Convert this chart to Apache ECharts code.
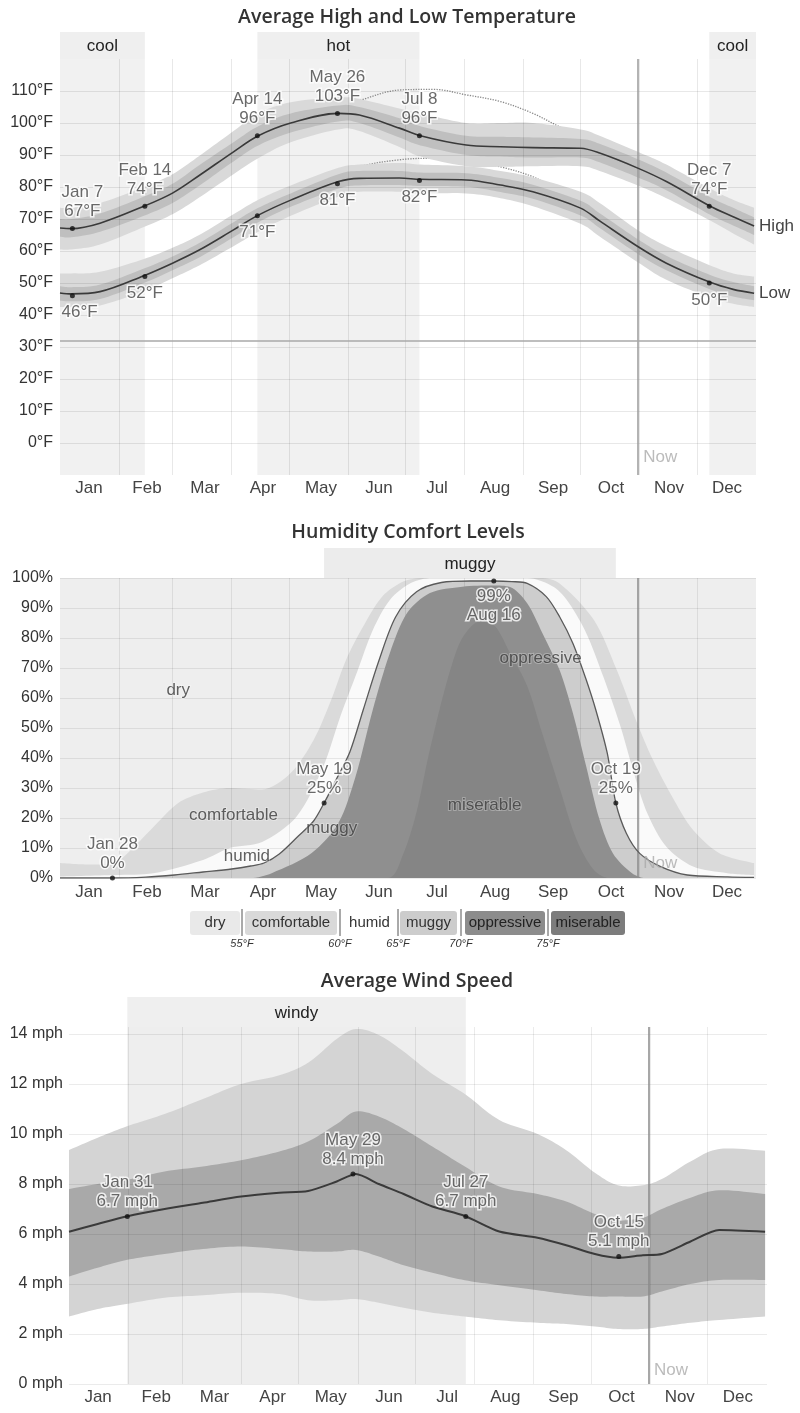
<!DOCTYPE html>
<html><head><meta charset="utf-8">
<script src="https://cdn.jsdelivr.net/npm/echarts@6/dist/echarts.min.js"></script>
<style>html,body{margin:0;padding:0;background:#fff}#c{width:800px;height:1413px}</style>
</head><body><div id="c"></div>
<script>
// ---------------- shared ----------------
const months = ['Jan','Feb','Mar','Apr','May','Jun','Jul','Aug','Sep','Oct','Nov','Dec'];
const monthStartDays = [31,59,90,120,151,181,212,243,273,304,334];
const nowDay = 303;

// ---------------- temperature ----------------
const tempYTicks = [0,10,20,30,40,50,60,70,80,90,100,110];
const freezingF = 32;
const tempBandNames = ['cool','hot','cool'];
const tempBandStart = [0, 103.5, 340.5];
const tempBandEnd = [44.5, 188.5, 365];
const tempDays = [0, 6, 21, 44, 59, 73, 91, 104, 121, 146, 157, 178, 189, 213, 231, 248, 273, 283, 303, 318, 341, 353, 364];
const tempHigh = [67.2, 67, 68.7, 74, 78.1, 83.6, 91, 96, 100, 103, 102.5, 98.4, 96, 93.1, 92.6, 92.3, 92.1, 90.6, 85.9, 81.7, 74, 70.7, 67.8];
const tempLow = [46.9, 46.6, 47.3, 52.3, 56.2, 60.3, 66.6, 71.2, 75.9, 81.7, 82.7, 82.8, 82.4, 82.2, 80.6, 78.5, 73.4, 69.4, 61.4, 56.2, 50.2, 48, 46.8];
const highP90 = [73.5, 73.5, 75, 80, 84, 89.7, 97.5, 103, 106.5, 108, 107.5, 104.5, 103, 100, 100, 100, 98, 96, 91, 87, 79.5, 76, 73.5];
const highP10 = [60.5, 60.5, 62, 67.5, 71.5, 76.7, 84, 89, 94, 98, 97.5, 92.5, 89.5, 86.5, 86.3, 86.5, 86.5, 85, 80.5, 76.5, 69.5, 65.5, 62];
const highP75 = [70, 70, 71.7, 77, 81, 86.8, 94, 99, 103, 105.5, 105, 101.5, 99, 96, 95.7, 95.5, 95, 93.5, 88.7, 84.5, 76.8, 73.5, 70.5];
const highP25 = [64.5, 64.3, 66, 71, 75, 80.4, 88, 93, 97, 100.5, 100, 95.5, 93, 90, 89.5, 89.2, 89.2, 87.7, 83, 79, 71.3, 68, 65];
const lowP90 = [53, 53, 53.5, 57.5, 61, 65, 71.5, 76, 80.5, 86, 87, 87.5, 87, 86.5, 85, 83, 78.5, 75, 66.5, 61.5, 55.5, 53, 52];
const lowP10 = [42.5, 42.5, 43, 47.5, 51.5, 55.5, 61.5, 66, 71, 77, 78.5, 78.5, 78, 78, 76.5, 74, 68.5, 64.5, 56.5, 51, 45.5, 43.5, 42.5];
const lowP75 = [49, 48.7, 49.5, 54.5, 58.3, 62.5, 69, 73.5, 78, 84, 85, 85, 84.5, 84.3, 82.8, 80.7, 75.7, 71.8, 63.7, 58.5, 52.5, 50.3, 49];
const lowP25 = [44.5, 44.3, 45, 50, 54, 58, 64.3, 69, 73.8, 79.5, 80.5, 80.6, 80.3, 80.1, 78.4, 76.3, 71.1, 67.2, 59.1, 54, 48, 45.8, 44.6];
const feelsHighDays = [121, 140, 157, 178, 196, 213, 231, 248, 262, 273, 280, 286];
const feelsHigh = [100, 103.5, 107, 110.3, 110.5, 108.8, 106.7, 103, 98.8, 95.7, 92.6, 90.2];
const feelsLowDays = [135, 146, 157, 178, 196, 213, 231, 248, 257, 265, 273];
const feelsLow = [79.5, 83, 86.3, 88.5, 89, 88.4, 86.3, 83.2, 80.1, 77, 73.8];
const tempMarkDates = ['Jan 7','Feb 14','Apr 14','May 26','Jul 8','Dec 7'];
const tempMarkDays = [6.5, 44.5, 103.5, 145.5, 188.5, 340.5];
const tempMarkHigh = [67, 74, 96, 103, 96, 74];
const tempMarkLow = [46, 52, 71, 81, 82, 50];
const tempNowLabelValue = -4.4;

// ---------------- humidity ----------------
const humYTicks = [0,10,20,30,40,50,60,70,80,90,100];
const humBandNames = ['muggy'];
const humBandStart = [138.5];
const humBandEnd = [291.5];
const comfortableDays = [0, 15, 27, 35, 49, 62, 75, 89, 106, 121, 133, 142, 150, 159, 169, 180, 190, 252, 262, 280, 292, 302, 311, 322, 332, 346, 364];
const comfortableTop = [5, 4.5, 4.5, 8, 17, 25, 28.5, 30, 29.5, 35, 46, 59, 72.7, 83.8, 93.8, 98.8, 100, 100, 98.2, 86, 69.3, 52.7, 39.3, 26, 16, 8.2, 5];
const humidDays = [0, 29, 49, 75, 89, 106, 124, 138, 147, 156, 164, 173, 184, 195, 245, 259, 267, 276, 285, 294, 301, 308, 318, 332, 350, 364];
const humidTop = [0.5, 1, 1.6, 6, 10, 12, 20.4, 37, 53.8, 69, 82.6, 92.7, 98.3, 100, 100, 97, 91.6, 81.6, 67, 50.4, 34.9, 21.6, 10.4, 3.8, 1.6, 1];
const muggyDays = [0, 27.5, 45, 60, 75, 90, 100, 107, 115, 125, 133, 138.5, 145, 152, 159, 167, 176, 187, 200, 215, 227.5, 237, 245, 255, 262, 269, 276, 281, 287, 291.5, 297, 304, 315, 329, 350, 364];
const muggyTop = [0, 0, 0.3, 1, 2, 3, 4, 5, 8, 14, 19, 25, 33, 42, 56, 72, 87, 95.4, 98.5, 99, 99, 98.8, 98.2, 93.8, 87.1, 78.2, 66, 56, 41.6, 25, 14.9, 8.2, 3.8, 1, 0.4, 0.2];
const oppressiveDays = [0, 100, 111, 132, 146, 155, 164, 173, 182, 194, 211, 227, 236, 245, 253, 262, 269, 276, 283, 290, 300, 307, 364];
const oppressiveTop = [0, 0, 1.6, 8.3, 18.3, 33.8, 56, 75, 88.3, 95, 97.1, 97.5, 97, 91.6, 81.6, 69.3, 54.9, 37.1, 19.3, 8.2, 1.6, 0, 0];
const miserableDays = [0, 172, 180, 187, 193, 199, 205, 211, 220, 228, 236, 245, 253, 262, 271, 280, 288, 364];
const miserableTop = [0, 0, 8, 22, 40, 56, 70, 80, 85.5, 84, 75, 64, 48, 30, 12.7, 2.7, 0, 0];
const humMarkDates = ['Jan 28','May 19','Aug 16','Oct 19'];
const humMarkDays = [27.5, 138.5, 227.5, 291.5];
const humMarkValues = [0, 25, 99, 25];
const humRegionNames = ['dry','comfortable','humid','muggy','miserable','oppressive'];
const humRegionDays = [62, 91, 98, 142.5, 222.7, 252];
const humRegionValues = [62.7, 21, 7.1, 16.6, 24.3, 73.2];
const humNowLabelValue = 5;
const legendNames = ['dry','comfortable','humid','muggy','oppressive','miserable'];
const legendThresholds = ['55°F','60°F','65°F','70°F','75°F'];

// ---------------- wind ----------------
const windYTicks = [0,2,4,6,8,10,12,14];
const windBandNames = ['windy'];
const windBandStart = [30.5];
const windBandEnd = [207.5];
const windDays = [0, 15, 30, 50, 70, 90, 110, 125, 140, 150, 162, 175, 190, 207, 225, 245, 260, 275, 287, 300, 310, 325, 340, 364];
const windMean = [6.09, 6.4, 6.7, 7.0, 7.25, 7.5, 7.65, 7.72, 8.1, 8.4, 8.0, 7.6, 7.1, 6.72, 6.1, 5.85, 5.55, 5.2, 5.05, 5.15, 5.2, 5.7, 6.16, 6.09];
const windP90 = [9.36, 9.85, 10.3, 10.8, 11.4, 12.0, 12.35, 12.85, 13.8, 14.2, 13.96, 13.3, 12.4, 11.6, 10.56, 10.0, 9.35, 8.45, 7.95, 7.95, 8.2, 8.9, 9.4, 9.33];
const windP75 = [7.8, 8.0, 8.16, 8.5, 8.7, 8.95, 9.3, 9.7, 10.4, 10.9, 10.7, 10.2, 9.5, 8.7, 7.9, 7.6, 7.3, 6.8, 6.55, 6.65, 7.0, 7.45, 7.75, 7.6];
const windP25 = [4.3, 4.65, 4.96, 5.2, 5.4, 5.5, 5.4, 5.3, 5.3, 5.36, 5.1, 4.75, 4.45, 4.15, 3.95, 3.75, 3.6, 3.5, 3.5, 3.5, 3.7, 4.0, 4.16, 4.16];
const windP10 = [2.7, 3.0, 3.2, 3.45, 3.55, 3.65, 3.6, 3.35, 3.35, 3.4, 3.25, 3.05, 2.85, 2.7, 2.55, 2.45, 2.4, 2.3, 2.2, 2.2, 2.3, 2.45, 2.56, 2.7];
const windMarkDates = ['Jan 31','May 29','Jul 27','Oct 15'];
const windMarkDays = [30.5, 148.5, 207.5, 287.5];
const windMarkValues = [6.7, 8.4, 6.7, 5.1];
const windNowLabelValue = 0.56;

// ================= helpers =================
const FONT = '"Liberation Sans", Arial, Helvetica, sans-serif';
const TFONT = '600 19.5px "Open Sans", "Noto Sans", sans-serif';

function smoothPts(pts, seg) {
  const n = pts.length, out = [];
  for (let i = 0; i < n - 1; i++) {
    const p0 = pts[i > 0 ? i - 1 : 0], p1 = pts[i], p2 = pts[i + 1], p3 = pts[i + 2 < n ? i + 2 : n - 1];
    for (let k = 0; k < seg; k++) {
      const t = k / seg, t2 = t * t, t3 = t2 * t;
      const f = (a, b, c, d) => 0.5 * (2 * b + (-a + c) * t + (2 * a - 5 * b + 4 * c - d) * t2 + (-a + 3 * b - 3 * c + d) * t3);
      out.push([f(p0[0], p1[0], p2[0], p3[0]), f(p0[1], p1[1], p2[1], p3[1])]);
    }
  }
  out.push(pts[n - 1]);
  return out;
}

function band(xi, yi, days, lo, hi, color, z) {
  return {
    type: 'custom', xAxisIndex: xi, yAxisIndex: yi, z: z, silent: true, clip: true,
    data: [[days[0], lo[0]]],
    renderItem: function (params, api) {
      const up = smoothPts(days.map((d, i) => api.coord([d, hi[i]])), 10);
      const dn = smoothPts(days.map((d, i) => api.coord([d, lo[i]])), 10).reverse();
      return { type: 'polygon', shape: { points: up.concat(dn) }, style: { fill: color } };
    }
  };
}

function shade(xi, yi, starts, ends, names, color, z, withLabel) {
  return {
    type: 'custom', xAxisIndex: xi, yAxisIndex: yi, z: z, silent: true, clip: true,
    data: starts.map((s, i) => [s, ends[i]]),
    renderItem: function (params, api) {
      const cs = params.coordSys;
      const x0 = api.coord([api.value(0), 0])[0], x1 = api.coord([api.value(1), 0])[0];
      const children = [{ type: 'rect', shape: { x: x0, y: cs.y, width: x1 - x0, height: cs.height }, style: { fill: color } }];
      if (withLabel) children.push({ type: 'text', x: (x0 + x1) / 2, y: cs.y + cs.height / 2 + 1,
        style: { text: names[params.dataIndex], fill: '#222', font: '17px ' + FONT, align: 'center', verticalAlign: 'middle', textAlign: 'center', textVerticalAlign: 'middle' } });
      return { type: 'group', children: children };
    }
  };
}

function gridLines(xi, yi, xVals, yVals, extra, color, z) {
  return {
    type: 'line', xAxisIndex: xi, yAxisIndex: yi, data: [], z: z, silent: true,
    markLine: { silent: true, symbol: ['none', 'none'], animation: false, label: { show: false },
      emphasis: { disabled: true },
      lineStyle: { color: color, width: 1, type: 'solid' },
      data: xVals.map(v => ({ xAxis: v })).concat(yVals.map(v => ({ yAxis: v }))).concat(extra) }
  };
}

function marks(xi, yi, days, vals, textFn, posFn, dist, left, right) {
  return {
    type: 'scatter', xAxisIndex: xi, yAxisIndex: yi, z: 9, silent: true, symbolSize: 5,
    itemStyle: { color: '#111' }, emphasis: { disabled: true },
    data: days.map((d, i) => ({ value: [d, vals[i]], label: { position: posFn(i) } })),
    label: { show: true, distance: dist, formatter: p => textFn(p.dataIndex), color: '#444',
      fontSize: 17, lineHeight: 19, fontFamily: FONT, textBorderColor: '#fff', textBorderWidth: 3 },
    labelLayout: function (p) {
      const r = p.labelRect;
      if (r.x < left) return { dx: left - r.x };
      if (r.x + r.width > right) return { dx: right - r.x - r.width };
      return {};
    }
  };
}

function texts(xi, yi, days, vals, names, color, pos, halo, z) {
  return {
    type: 'scatter', xAxisIndex: xi, yAxisIndex: yi, z: z, silent: true, symbolSize: 1,
    itemStyle: { color: 'rgba(0,0,0,0)' }, emphasis: { disabled: true },
    data: days.map((d, i) => [d, vals[i]]),
    label: { show: true, position: pos, distance: 5, formatter: p => names[p.dataIndex], color: color,
      fontSize: 17, fontFamily: FONT, textBorderColor: halo, textBorderWidth: halo ? 2 : 0 }
  };
}

function area(xi, yi, days, vals, color, z) {
  return {
    type: 'line', xAxisIndex: xi, yAxisIndex: yi, z: z, silent: true, smooth: 0.3, showSymbol: false,
    data: days.map((d, i) => [d, vals[i]]), lineStyle: { width: 0, opacity: 0 },
    areaStyle: { color: color, opacity: 1 }, emphasis: { disabled: true }
  };
}

function line(xi, yi, days, vals, style, z, extra) {
  return Object.assign({
    type: 'line', xAxisIndex: xi, yAxisIndex: yi, z: z, silent: true, smooth: 0.35, showSymbol: false,
    data: days.map((d, i) => [d, vals[i]]), lineStyle: style, emphasis: { disabled: true }
  }, extra || {});
}

// ================= layout =================
const P = [
  { left: 60, width: 696, hTop: 32, hH: 27, top: 59, h: 416 },
  { left: 60, width: 696, hTop: 548, hH: 30, top: 578, h: 300 },
  { left: 69, width: 698, hTop: 997, hH: 30, top: 1027, h: 357 }
];
const grids = [];
P.forEach(p => {
  grids.push({ left: p.left, width: p.width, top: p.hTop, height: p.hH, outerBoundsMode: 'none' });
  grids.push({ left: p.left, width: p.width, top: p.top, height: p.h, outerBoundsMode: 'none' });
});
grids[3].show = true; grids[3].backgroundColor = '#eeeeee'; grids[3].borderWidth = 0;

const xAxes = [], yAxes = [];
[0, 1, 2].forEach(k => {
  const gh = 2 * k, gm = 2 * k + 1;
  xAxes.push({ gridIndex: gh, type: 'value', min: 0, max: 365, show: false });
  xAxes.push({ gridIndex: gm, type: 'value', min: 0, max: 365, show: false });
  xAxes.push({ gridIndex: gm, type: 'category', data: months, boundaryGap: true, position: 'bottom',
    axisLine: { show: false }, axisTick: { show: false }, splitLine: { show: false },
    axisLabel: { color: '#444', fontSize: 17, fontFamily: FONT, margin: k === 1 ? 6 : 5, interval: 0 } });
  yAxes.push({ gridIndex: gh, type: 'value', min: 0, max: 1, show: false });
});
yAxes.splice(1, 0, { gridIndex: 1, type: 'value', min: -10, max: 120, interval: 10,
  axisLine: { show: false }, axisTick: { show: false }, splitLine: { show: false },
  axisLabel: { formatter: '{value}°F', showMinLabel: false, showMaxLabel: false, color: '#333', fontSize: 16, fontFamily: FONT, margin: 7 } });
yAxes.splice(3, 0, { gridIndex: 3, type: 'value', min: 0, max: 100, interval: 10,
  axisLine: { show: false }, axisTick: { show: false }, splitLine: { show: false },
  axisLabel: { formatter: '{value}%', color: '#333', fontSize: 16, fontFamily: FONT, margin: 7 } });
yAxes.push({ gridIndex: 5, type: 'value', min: 0, max: 14.28, interval: 2,
  axisLine: { show: false }, axisTick: { show: false }, splitLine: { show: false },
  axisLabel: { formatter: '{value} mph', showMaxLabel: false, color: '#333', fontSize: 16, fontFamily: FONT, margin: 6 } });

const series = [];
// ---- temperature ----
series.push(shade(0, 0, tempBandStart, tempBandEnd, tempBandNames, '#efefef', 1, true));
series.push(shade(1, 1, tempBandStart, tempBandEnd, tempBandNames, '#f1f1f1', 0, false));
series.push(line(1, 1, feelsHighDays, feelsHigh, { color: '#8a8a8a', width: 1.3, type: 'dotted' }, 2));
series.push(line(1, 1, feelsLowDays, feelsLow, { color: '#8a8a8a', width: 1.3, type: 'dotted' }, 2));
series.push(band(1, 1, tempDays, highP10, highP90, '#d9d9d9', 3));
series.push(band(1, 1, tempDays, lowP10, lowP90, '#d9d9d9', 3));
series.push(band(1, 1, tempDays, highP25, highP75, '#bfbfbf', 4));
series.push(band(1, 1, tempDays, lowP25, lowP75, '#bfbfbf', 4));
series.push(gridLines(1, 1, monthStartDays, tempYTicks,
  [{ xAxis: nowDay, lineStyle: { color: '#9a9a9a', width: 1.5 } }, { yAxis: freezingF, lineStyle: { color: '#a8a8a8', width: 1.5 } }],
  'rgba(0,0,0,0.09)', 5));
const endLab = (t) => ({ endLabel: { show: true, formatter: t, color: '#444', fontSize: 17, fontFamily: FONT, distance: 5 } });
series.push(line(1, 1, tempDays, tempHigh, { color: '#3a3a3a', width: 1.6 }, 6, endLab('High')));
series.push(line(1, 1, tempDays, tempLow, { color: '#3a3a3a', width: 1.6 }, 6, endLab('Low')));
series.push(marks(1, 1, tempMarkDays, tempMarkHigh, i => tempMarkDates[i] + '\n' + tempMarkHigh[i] + '°F', () => 'top', 5, 60, 756));
series.push(marks(1, 1, tempMarkDays, tempMarkLow, i => tempMarkLow[i] + '°F', () => 'bottom', 5, 60, 756));
series.push(texts(1, 1, [nowDay], [tempNowLabelValue], ['Now'], '#aaaaaa', 'right', null, 9));

// ---- humidity ----
series.push(shade(3, 2, humBandStart, humBandEnd, humBandNames, '#ececec', 1, true));
series.push(area(4, 3, comfortableDays, comfortableTop, '#dadada', 2));
series.push(area(4, 3, humidDays, humidTop, '#fafafa', 3));
series.push(area(4, 3, muggyDays, muggyTop, '#cdcdcd', 4));
series.push(area(4, 3, oppressiveDays, oppressiveTop, '#8f8f8f', 5));
series.push(area(4, 3, miserableDays, miserableTop, '#858585', 6));
series.push(gridLines(4, 3, monthStartDays, humYTicks,
  [{ xAxis: nowDay, lineStyle: { color: '#8a8a8a', width: 1.5 } }], 'rgba(0,0,0,0.08)', 7));
series.push(line(4, 3, muggyDays, muggyTop, { color: '#5a5a5a', width: 1.3 }, 8, { smooth: 0.3 }));
series.push(texts(4, 3, humRegionDays, humRegionValues, humRegionNames, '#3a3a3a', 'inside', 'rgba(255,255,255,0.35)', 9));
series.push(marks(4, 3, humMarkDays, humMarkValues,
  i => humMarkValues[i] > 90 ? humMarkValues[i] + '%\n' + humMarkDates[i] : humMarkDates[i] + '\n' + humMarkValues[i] + '%',
  i => humMarkValues[i] > 90 ? 'bottom' : 'top', 3, 60, 756));
series.push(texts(4, 3, [nowDay], [humNowLabelValue], ['Now'], '#aaaaaa', 'right', null, 9));

// ---- wind ----
series.push(shade(6, 4, windBandStart, windBandEnd, windBandNames, '#efefef', 1, true));
series.push(shade(7, 5, windBandStart, windBandEnd, windBandNames, '#eeeeee', 0, false));
series.push(band(7, 5, windDays, windP10, windP90, '#d4d4d4', 3));
series.push(band(7, 5, windDays, windP25, windP75, '#a9a9a9', 4));
series.push(gridLines(7, 5, monthStartDays, windYTicks,
  [{ xAxis: nowDay, lineStyle: { color: '#8a8a8a', width: 1.5 } }], 'rgba(0,0,0,0.08)', 5));
series.push(line(7, 5, windDays, windMean, { color: '#3a3a3a', width: 2 }, 6, { smooth: 0.25 }));
series.push(marks(7, 5, windMarkDays, windMarkValues, i => windMarkDates[i] + '\n' + windMarkValues[i] + ' mph', () => 'top', 3, 69, 767));
series.push(texts(7, 5, [nowDay], [windNowLabelValue], ['Now'], '#aaaaaa', 'right', null, 9));

// ---- graphic: titles + humidity legend ----
const graphic = [
  { type: 'text', x: 407, y: 17, style: { text: 'Average High and Low Temperature', font: TFONT, fill: '#333', align: 'center', verticalAlign: 'middle', textAlign: 'center', textVerticalAlign: 'middle' } },
  { type: 'text', x: 408, y: 532, style: { text: 'Humidity Comfort Levels', font: TFONT, fill: '#333', align: 'center', verticalAlign: 'middle', textAlign: 'center', textVerticalAlign: 'middle' } },
  { type: 'text', x: 417, y: 981, style: { text: 'Average Wind Speed', font: TFONT, fill: '#333', align: 'center', verticalAlign: 'middle', textAlign: 'center', textVerticalAlign: 'middle' } }
];
const legendBoxes = [[190, 240], [245, 337], [344, 395], [400, 457], [465, 545], [551, 625]];
const legendColors = ['#e9e9e9', '#d9d9d9', '#ffffff', '#cccccc', '#8c8c8c', '#7c7c7c'];
const legendSeps = [242, 340, 398, 461, 548];
legendNames.forEach((n, i) => {
  const b = legendBoxes[i];
  graphic.push({ type: 'rect', shape: { x: b[0], y: 911, width: b[1] - b[0], height: 24, r: 3 }, style: { fill: legendColors[i] } });
  graphic.push({ type: 'text', x: (b[0] + b[1]) / 2, y: 923, style: { text: n, font: '15px ' + FONT, fill: i >= 4 ? '#222' : '#333', align: 'center', verticalAlign: 'middle', textAlign: 'center', textVerticalAlign: 'middle' } });
});
legendThresholds.forEach((t, i) => {
  const x = legendSeps[i];
  graphic.push({ type: 'line', shape: { x1: x, y1: 909, x2: x, y2: 936 }, style: { stroke: '#555', lineWidth: 1 } });
  graphic.push({ type: 'text', x: x, y: 944, style: { text: t, font: 'italic 11px ' + FONT, fill: '#333', align: 'center', verticalAlign: 'middle', textAlign: 'center', textVerticalAlign: 'middle' } });
});

const chart = echarts.init(document.getElementById('c'), null, { renderer: 'canvas' });
chart.setOption({
  animation: false,
  backgroundColor: '#ffffff',
  textStyle: { fontFamily: FONT },
  grid: grids, xAxis: xAxes, yAxis: yAxes, series: series, graphic: graphic
});
</script></body></html>
